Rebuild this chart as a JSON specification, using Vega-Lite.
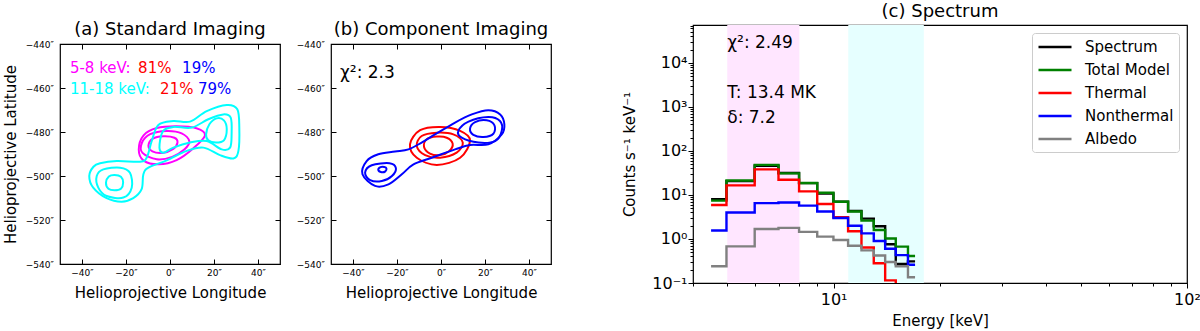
{
  "$schema": "https://vega.github.io/schema/vega-lite/v6.json",
  "background": "white",
  "padding": {"left": 2, "top": 2, "right": 5, "bottom": 0},
  "bounds": "flush",
  "center": true,
  "spacing": 51,
  "config": {
    "font": "DejaVu Sans",
    "view": {"stroke": "black", "strokeWidth": 1.2},
    "axis": {"grid": false, "domain": false, "labelColor": "black", "titleColor": "black", "tickColor": "black", "tickWidth": 1, "titleFontWeight": "normal", "labelFlush": false, "labelOverlap": false},
    "title": {"fontSize": 18, "fontWeight": "normal", "anchor": "middle", "frame": "group", "baseline": "bottom", "color": "black"}
  },
  "resolve": {"scale": {"color": "independent"}},
  "datasets": {
    "contA": [
      {"c":"M3","g":"5-8 keV","i":0,"x":15.9,"y":-481.5},{"c":"M3","g":"5-8 keV","i":1,"x":12,"y":-478.3},{"c":"M3","g":"5-8 keV","i":2,"x":3,"y":-477.4},{"c":"M3","g":"5-8 keV","i":3,"x":-6,"y":-478.2},{"c":"M3","g":"5-8 keV","i":4,"x":-12,"y":-481.5},{"c":"M3","g":"5-8 keV","i":5,"x":-14.2,"y":-488},{"c":"M3","g":"5-8 keV","i":6,"x":-12,"y":-493},{"c":"M3","g":"5-8 keV","i":7,"x":-5,"y":-494.7},{"c":"M3","g":"5-8 keV","i":8,"x":3,"y":-492.8},{"c":"M3","g":"5-8 keV","i":9,"x":10.5,"y":-487.5},
      {"c":"M2","g":"5-8 keV","i":0,"x":8.8,"y":-484.3},{"c":"M2","g":"5-8 keV","i":1,"x":5.3,"y":-480.6},{"c":"M2","g":"5-8 keV","i":2,"x":-1.5,"y":-479.5},{"c":"M2","g":"5-8 keV","i":3,"x":-9,"y":-481},{"c":"M2","g":"5-8 keV","i":4,"x":-12.8,"y":-485},{"c":"M2","g":"5-8 keV","i":5,"x":-12.5,"y":-489.5},{"c":"M2","g":"5-8 keV","i":6,"x":-6,"y":-492.4},{"c":"M2","g":"5-8 keV","i":7,"x":1,"y":-491.3},{"c":"M2","g":"5-8 keV","i":8,"x":6.5,"y":-488},
      {"c":"M1","g":"5-8 keV","i":0,"x":3.4,"y":-484.8},{"c":"M1","g":"5-8 keV","i":1,"x":2,"y":-482.6},{"c":"M1","g":"5-8 keV","i":2,"x":-3,"y":-481.9},{"c":"M1","g":"5-8 keV","i":3,"x":-7.8,"y":-483},{"c":"M1","g":"5-8 keV","i":4,"x":-9.8,"y":-486.2},{"c":"M1","g":"5-8 keV","i":5,"x":-8,"y":-488.8},{"c":"M1","g":"5-8 keV","i":6,"x":-3.5,"y":-489.5},{"c":"M1","g":"5-8 keV","i":7,"x":1.3,"y":-487.8},
      {"c":"C3","g":"11-18 keV","i":0,"x":-31.8,"y":-494.2},{"c":"C3","g":"11-18 keV","i":1,"x":-24.2,"y":-493.2},{"c":"C3","g":"11-18 keV","i":2,"x":-13.6,"y":-493.5},{"c":"C3","g":"11-18 keV","i":3,"x":-10.6,"y":-491.7},{"c":"C3","g":"11-18 keV","i":4,"x":-8.3,"y":-484.1},{"c":"C3","g":"11-18 keV","i":5,"x":-5.3,"y":-476.8},{"c":"C3","g":"11-18 keV","i":6,"x":1.5,"y":-475},{"c":"C3","g":"11-18 keV","i":7,"x":9.1,"y":-475.3},{"c":"C3","g":"11-18 keV","i":8,"x":16.7,"y":-470.5},{"c":"C3","g":"11-18 keV","i":9,"x":25.8,"y":-467.7},{"c":"C3","g":"11-18 keV","i":10,"x":30.6,"y":-469.7},{"c":"C3","g":"11-18 keV","i":11,"x":31.5,"y":-478},{"c":"C3","g":"11-18 keV","i":12,"x":31.1,"y":-488.6},{"c":"C3","g":"11-18 keV","i":13,"x":28.8,"y":-492},{"c":"C3","g":"11-18 keV","i":14,"x":22.7,"y":-490.5},{"c":"C3","g":"11-18 keV","i":15,"x":15.2,"y":-487.1},{"c":"C3","g":"11-18 keV","i":16,"x":7.6,"y":-488.6},{"c":"C3","g":"11-18 keV","i":17,"x":-1.5,"y":-492.9},{"c":"C3","g":"11-18 keV","i":18,"x":-9.8,"y":-496.2},{"c":"C3","g":"11-18 keV","i":19,"x":-12.1,"y":-499.2},{"c":"C3","g":"11-18 keV","i":20,"x":-12.9,"y":-506},{"c":"C3","g":"11-18 keV","i":21,"x":-16.7,"y":-510.1},{"c":"C3","g":"11-18 keV","i":22,"x":-22,"y":-511.7},{"c":"C3","g":"11-18 keV","i":23,"x":-28.8,"y":-510.1},{"c":"C3","g":"11-18 keV","i":24,"x":-34.9,"y":-505.3},{"c":"C3","g":"11-18 keV","i":25,"x":-36.7,"y":-500},{"c":"C3","g":"11-18 keV","i":26,"x":-34.8,"y":-495.8},
      {"c":"C2a","g":"11-18 keV","i":0,"x":-33.3,"y":-500},{"c":"C2a","g":"11-18 keV","i":1,"x":-30.3,"y":-497},{"c":"C2a","g":"11-18 keV","i":2,"x":-22.7,"y":-496.2},{"c":"C2a","g":"11-18 keV","i":3,"x":-18.2,"y":-498.5},{"c":"C2a","g":"11-18 keV","i":4,"x":-17.4,"y":-505.3},{"c":"C2a","g":"11-18 keV","i":5,"x":-21.2,"y":-509.8},{"c":"C2a","g":"11-18 keV","i":6,"x":-28.8,"y":-509.1},{"c":"C2a","g":"11-18 keV","i":7,"x":-32.6,"y":-505.3},
      {"c":"C2b","g":"11-18 keV","i":0,"x":-4.8,"y":-487.1},{"c":"C2b","g":"11-18 keV","i":1,"x":-3.3,"y":-479.8},{"c":"C2b","g":"11-18 keV","i":2,"x":1.5,"y":-477.7},{"c":"C2b","g":"11-18 keV","i":3,"x":9.9,"y":-478},{"c":"C2b","g":"11-18 keV","i":4,"x":17.4,"y":-474.2},{"c":"C2b","g":"11-18 keV","i":5,"x":24.2,"y":-472},{"c":"C2b","g":"11-18 keV","i":6,"x":27.6,"y":-473.5},{"c":"C2b","g":"11-18 keV","i":7,"x":28,"y":-481},{"c":"C2b","g":"11-18 keV","i":8,"x":27.3,"y":-487.1},{"c":"C2b","g":"11-18 keV","i":9,"x":23.5,"y":-487.9},{"c":"C2b","g":"11-18 keV","i":10,"x":16.7,"y":-484.1},{"c":"C2b","g":"11-18 keV","i":11,"x":9.1,"y":-484.8},{"c":"C2b","g":"11-18 keV","i":12,"x":1.5,"y":-487.1},{"c":"C2b","g":"11-18 keV","i":13,"x":-3,"y":-489.4},
      {"c":"C1a","g":"11-18 keV","i":0,"x":-29.1,"y":-503},{"c":"C1a","g":"11-18 keV","i":1,"x":-27.8,"y":-500.2},{"c":"C1a","g":"11-18 keV","i":2,"x":-25.2,"y":-499.5},{"c":"C1a","g":"11-18 keV","i":3,"x":-22.3,"y":-500.3},{"c":"C1a","g":"11-18 keV","i":4,"x":-21.3,"y":-503},{"c":"C1a","g":"11-18 keV","i":5,"x":-22.3,"y":-505.8},{"c":"C1a","g":"11-18 keV","i":6,"x":-25.2,"y":-506.5},{"c":"C1a","g":"11-18 keV","i":7,"x":-28,"y":-505.8},
      {"c":"C1b","g":"11-18 keV","i":0,"x":16.4,"y":-481.1},{"c":"C1b","g":"11-18 keV","i":1,"x":17.9,"y":-476.5},{"c":"C1b","g":"11-18 keV","i":2,"x":21.2,"y":-473.8},{"c":"C1b","g":"11-18 keV","i":3,"x":24.5,"y":-474.7},{"c":"C1b","g":"11-18 keV","i":4,"x":25.8,"y":-478.8},{"c":"C1b","g":"11-18 keV","i":5,"x":24.5,"y":-483.8},{"c":"C1b","g":"11-18 keV","i":6,"x":20.9,"y":-484.8},{"c":"C1b","g":"11-18 keV","i":7,"x":17.4,"y":-483.8}
    ],
    "textA": [
      {"t":"5-8 keV:","g":"5-8 keV","x":-45.5,"y":-451},
      {"t":"81%","g":"th","x":-14.5,"y":-451},
      {"t":"19%","g":"nt","x":5.5,"y":-451},
      {"t":"11-18 keV:","g":"11-18 keV","x":-45.5,"y":-460.5},
      {"t":"21%","g":"th","x":-4.5,"y":-460.5},
      {"t":"79%","g":"nt","x":12.7,"y":-460.5}
    ],
    "contB": [
      {"c":"R3","g":"Thermal","i":0,"x":13.2,"y":-483.8},{"c":"R3","g":"Thermal","i":1,"x":8.7,"y":-479.5},{"c":"R3","g":"Thermal","i":2,"x":-0.4,"y":-477.7},{"c":"R3","g":"Thermal","i":3,"x":-9.5,"y":-479.2},{"c":"R3","g":"Thermal","i":4,"x":-14.1,"y":-485.6},{"c":"R3","g":"Thermal","i":5,"x":-11,"y":-491.7},{"c":"R3","g":"Thermal","i":6,"x":-1.9,"y":-495},{"c":"R3","g":"Thermal","i":7,"x":8.7,"y":-491.7},
      {"c":"R2","g":"Thermal","i":0,"x":9.9,"y":-484.8},{"c":"R2","g":"Thermal","i":1,"x":5.6,"y":-481.1},{"c":"R2","g":"Thermal","i":2,"x":-1.9,"y":-480.3},{"c":"R2","g":"Thermal","i":3,"x":-8.8,"y":-481.8},{"c":"R2","g":"Thermal","i":4,"x":-11,"y":-486.4},{"c":"R2","g":"Thermal","i":5,"x":-7.2,"y":-490.5},{"c":"R2","g":"Thermal","i":6,"x":-0.4,"y":-491.7},{"c":"R2","g":"Thermal","i":7,"x":7.1,"y":-489.4},
      {"c":"R1","g":"Thermal","i":0,"x":5.3,"y":-485.3},{"c":"R1","g":"Thermal","i":1,"x":2.6,"y":-482.6},{"c":"R1","g":"Thermal","i":2,"x":-1.9,"y":-482.1},{"c":"R1","g":"Thermal","i":3,"x":-6.5,"y":-483.3},{"c":"R1","g":"Thermal","i":4,"x":-7.7,"y":-486.8},{"c":"R1","g":"Thermal","i":5,"x":-5,"y":-489.8},{"c":"R1","g":"Thermal","i":6,"x":-0.4,"y":-490.5},{"c":"R1","g":"Thermal","i":7,"x":3.8,"y":-488.6},
      {"c":"B3","g":"Nonthermal","i":0,"x":-35.7,"y":-499.2},{"c":"B3","g":"Nonthermal","i":1,"x":-30,"y":-504.5},{"c":"B3","g":"Nonthermal","i":2,"x":-23.9,"y":-503.8},{"c":"B3","g":"Nonthermal","i":3,"x":-17.8,"y":-499.2},{"c":"B3","g":"Nonthermal","i":4,"x":-12.5,"y":-494.7},{"c":"B3","g":"Nonthermal","i":5,"x":-4.2,"y":-491.7},{"c":"B3","g":"Nonthermal","i":6,"x":6.4,"y":-487.9},{"c":"B3","g":"Nonthermal","i":7,"x":13.2,"y":-485.9},{"c":"B3","g":"Nonthermal","i":8,"x":21.5,"y":-485.6},{"c":"B3","g":"Nonthermal","i":9,"x":27.6,"y":-481.1},{"c":"B3","g":"Nonthermal","i":10,"x":28.8,"y":-476.5},{"c":"B3","g":"Nonthermal","i":11,"x":26.9,"y":-472},{"c":"B3","g":"Nonthermal","i":12,"x":21.5,"y":-470.1},{"c":"B3","g":"Nonthermal","i":13,"x":14,"y":-472},{"c":"B3","g":"Nonthermal","i":14,"x":6.4,"y":-475.7},{"c":"B3","g":"Nonthermal","i":15,"x":-2.7,"y":-481.1},{"c":"B3","g":"Nonthermal","i":16,"x":-8.8,"y":-484.8},{"c":"B3","g":"Nonthermal","i":17,"x":-14.8,"y":-487.9},{"c":"B3","g":"Nonthermal","i":18,"x":-20.9,"y":-488.9},{"c":"B3","g":"Nonthermal","i":19,"x":-28.5,"y":-490.1},{"c":"B3","g":"Nonthermal","i":20,"x":-33.8,"y":-493.2},
      {"c":"B2a","g":"Nonthermal","i":0,"x":-34.5,"y":-498.5},{"c":"B2a","g":"Nonthermal","i":1,"x":-31.5,"y":-495.1},{"c":"B2a","g":"Nonthermal","i":2,"x":-23.4,"y":-494.2},{"c":"B2a","g":"Nonthermal","i":3,"x":-20.5,"y":-496.4},{"c":"B2a","g":"Nonthermal","i":4,"x":-22.3,"y":-500},{"c":"B2a","g":"Nonthermal","i":5,"x":-26.9,"y":-502.3},{"c":"B2a","g":"Nonthermal","i":6,"x":-32.2,"y":-501.9},
      {"c":"B2b","g":"Nonthermal","i":0,"x":7.9,"y":-479.5},{"c":"B2b","g":"Nonthermal","i":1,"x":12.5,"y":-475.3},{"c":"B2b","g":"Nonthermal","i":2,"x":21.5,"y":-473.2},{"c":"B2b","g":"Nonthermal","i":3,"x":26.8,"y":-475},{"c":"B2b","g":"Nonthermal","i":4,"x":27.6,"y":-479.5},{"c":"B2b","g":"Nonthermal","i":5,"x":24.6,"y":-484.1},{"c":"B2b","g":"Nonthermal","i":6,"x":17,"y":-484.8},{"c":"B2b","g":"Nonthermal","i":7,"x":9.4,"y":-482.6},
      {"c":"B1a","g":"Nonthermal","i":0,"x":-28.5,"y":-497.3},{"c":"B1a","g":"Nonthermal","i":1,"x":-27.5,"y":-496},{"c":"B1a","g":"Nonthermal","i":2,"x":-25.8,"y":-495.9},{"c":"B1a","g":"Nonthermal","i":3,"x":-24.8,"y":-496.6},{"c":"B1a","g":"Nonthermal","i":4,"x":-25.3,"y":-497.9},{"c":"B1a","g":"Nonthermal","i":5,"x":-27,"y":-498.3},
      {"c":"B1b","g":"Nonthermal","i":0,"x":13.2,"y":-478.5},{"c":"B1b","g":"Nonthermal","i":1,"x":15.5,"y":-475.5},{"c":"B1b","g":"Nonthermal","i":2,"x":20.8,"y":-474.7},{"c":"B1b","g":"Nonthermal","i":3,"x":24.3,"y":-477},{"c":"B1b","g":"Nonthermal","i":4,"x":23.8,"y":-480.8},{"c":"B1b","g":"Nonthermal","i":5,"x":19.3,"y":-482.3},{"c":"B1b","g":"Nonthermal","i":6,"x":14.7,"y":-481.3}
    ],
    "textB": [{"t":"χ²: 2.3","x":-45.9,"y":-453}],
    "spec": [
      {"E":4.5,"s":"Spectrum","v":8.0},{"E":5.5,"s":"Spectrum","v":20.5},{"E":6.5,"s":"Spectrum","v":46},{"E":7.5,"s":"Spectrum","v":31.5},{"E":8.5,"s":"Spectrum","v":18.5},{"E":9.5,"s":"Spectrum","v":10.8},{"E":10.5,"s":"Spectrum","v":7.0},{"E":11.5,"s":"Spectrum","v":4.3},{"E":12.5,"s":"Spectrum","v":2.9},{"E":13.5,"s":"Spectrum","v":1.95},{"E":14.5,"s":"Spectrum","v":0.76},{"E":15.5,"s":"Spectrum","v":0.27},{"E":17,"s":"Spectrum","v":0.31},
      {"E":4.5,"s":"Total Model","v":7.4},{"E":5.5,"s":"Total Model","v":21.3},{"E":6.5,"s":"Total Model","v":48},{"E":7.5,"s":"Total Model","v":30.8},{"E":8.5,"s":"Total Model","v":18.6},{"E":9.5,"s":"Total Model","v":11.2},{"E":10.5,"s":"Total Model","v":7.0},{"E":11.5,"s":"Total Model","v":4.2},{"E":12.5,"s":"Total Model","v":2.6},{"E":13.5,"s":"Total Model","v":1.6},{"E":14.5,"s":"Total Model","v":1.02},{"E":15.5,"s":"Total Model","v":0.67},{"E":17,"s":"Total Model","v":0.41},
      {"E":4.5,"s":"Thermal","v":5.9},{"E":5.5,"s":"Thermal","v":16.5},{"E":6.5,"s":"Thermal","v":38},{"E":7.5,"s":"Thermal","v":22},{"E":8.5,"s":"Thermal","v":12},{"E":9.5,"s":"Thermal","v":6.2},{"E":10.5,"s":"Thermal","v":3.1},{"E":11.5,"s":"Thermal","v":1.5},{"E":12.5,"s":"Thermal","v":0.64},{"E":13.5,"s":"Thermal","v":0.28},{"E":14.5,"s":"Thermal","v":0.115},{"E":15.5,"s":"Thermal","v":0.05},{"E":17,"s":"Thermal","v":0.02},
      {"E":4.5,"s":"Nonthermal","v":1.55},{"E":5.5,"s":"Nonthermal","v":4.0},{"E":6.5,"s":"Nonthermal","v":6.5},{"E":7.5,"s":"Nonthermal","v":6.7},{"E":8.5,"s":"Nonthermal","v":5.7},{"E":9.5,"s":"Nonthermal","v":4.2},{"E":10.5,"s":"Nonthermal","v":3.0},{"E":11.5,"s":"Nonthermal","v":2.0},{"E":12.5,"s":"Nonthermal","v":1.34},{"E":13.5,"s":"Nonthermal","v":0.9},{"E":14.5,"s":"Nonthermal","v":0.6},{"E":15.5,"s":"Nonthermal","v":0.43},{"E":17,"s":"Nonthermal","v":0.26},
      {"E":4.5,"s":"Albedo","v":0.24},{"E":5.5,"s":"Albedo","v":0.68},{"E":6.5,"s":"Albedo","v":1.68},{"E":7.5,"s":"Albedo","v":1.78},{"E":8.5,"s":"Albedo","v":1.45},{"E":9.5,"s":"Albedo","v":1.13},{"E":10.5,"s":"Albedo","v":0.95},{"E":11.5,"s":"Albedo","v":0.7},{"E":12.5,"s":"Albedo","v":0.55},{"E":13.5,"s":"Albedo","v":0.42},{"E":14.5,"s":"Albedo","v":0.3},{"E":15.5,"s":"Albedo","v":0.24},{"E":17,"s":"Albedo","v":0.135}
    ],
    "bands": [{"b":"5-8 keV","lo":5,"hi":8},{"b":"11-18 keV","lo":11,"hi":18}],
    "textC": [
      {"t":"χ²: 2.49","E":5,"v":28600},
      {"t":"T: 13.4 MK","E":5,"v":2100},
      {"t":"δ: 7.2","E":5,"v":569}
    ]
  },
  "hconcat": [
    {
      "width": 220, "height": 220,
      "title": {"text": "(a) Standard Imaging", "offset": 1},
      "layer": [
        {
          "data": {"name": "contA"},
          "mark": {"type": "line", "interpolate": "cardinal-closed", "strokeWidth": 2, "clip": true},
          "encoding": {
            "x": {"field": "x", "type": "quantitative", "scale": {"domain": [-50, 50], "nice": false, "zero": false},
                  "axis": {"orient": "bottom", "title": "Helioprojective Longitude", "values": [-40, -20, 0, 20, 40], "labelExpr": "(datum.value < 0 ? '−' + abs(datum.value) : '' + datum.value) + '″'", "tickSize": -5, "labelPadding": 9, "labelFontSize": 9, "titleFontSize": 15, "titlePadding": 8}},
            "y": {"field": "y", "type": "quantitative", "scale": {"domain": [-540, -440], "nice": false, "zero": false},
                  "axis": {"orient": "left", "title": "Helioprojective Latitude", "values": [-540, -520, -500, -480, -460, -440], "labelExpr": "(datum.value < 0 ? '−' + abs(datum.value) : '' + datum.value) + '″'", "tickSize": -5, "labelPadding": 11.7, "labelFontSize": 9, "titleFontSize": 15, "titlePadding": 7}},
            "color": {"field": "g", "type": "nominal", "scale": {"domain": ["5-8 keV", "11-18 keV", "th", "nt"], "range": ["#ff00ff", "#00ffff", "#ff0000", "#0000ff"]}, "legend": null},
            "detail": {"field": "c"},
            "order": {"field": "i", "type": "quantitative"}
          }
        },
        {
          "data": {"name": "textA"},
          "mark": {"type": "text", "align": "left", "baseline": "middle", "fontSize": 15},
          "encoding": {
            "x": {"field": "x", "type": "quantitative", "scale": {"domain": [-50, 50], "nice": false, "zero": false},
                  "axis": {"orient": "top", "title": null, "labels": false, "values": [-40, -20, 0, 20, 40], "tickSize": -5}},
            "y": {"field": "y", "type": "quantitative", "scale": {"domain": [-540, -440], "nice": false, "zero": false},
                  "axis": {"orient": "right", "title": null, "labels": false, "values": [-540, -520, -500, -480, -460, -440], "tickSize": -5}},
            "text": {"field": "t"},
            "color": {"field": "g", "type": "nominal", "scale": {"domain": ["5-8 keV", "11-18 keV", "th", "nt"], "range": ["#ff00ff", "#00ffff", "#ff0000", "#0000ff"]}, "legend": null}
          }
        }
      ],
      "resolve": {"axis": {"x": "independent", "y": "independent"}}
    },
    {
      "width": 220, "height": 220,
      "title": {"text": "(b) Component Imaging", "offset": 1},
      "layer": [
        {
          "data": {"name": "contB"},
          "mark": {"type": "line", "interpolate": "cardinal-closed", "strokeWidth": 2, "clip": true},
          "encoding": {
            "x": {"field": "x", "type": "quantitative", "scale": {"domain": [-50, 50], "nice": false, "zero": false},
                  "axis": {"orient": "bottom", "title": "Helioprojective Longitude", "values": [-40, -20, 0, 20, 40], "labelExpr": "(datum.value < 0 ? '−' + abs(datum.value) : '' + datum.value) + '″'", "tickSize": -5, "labelPadding": 9, "labelFontSize": 9, "titleFontSize": 15, "titlePadding": 8}},
            "y": {"field": "y", "type": "quantitative", "scale": {"domain": [-540, -440], "nice": false, "zero": false},
                  "axis": {"orient": "left", "title": null, "values": [-540, -520, -500, -480, -460, -440], "labelExpr": "(datum.value < 0 ? '−' + abs(datum.value) : '' + datum.value) + '″'", "tickSize": -5, "labelPadding": 11.7, "labelFontSize": 9}},
            "color": {"field": "g", "type": "nominal", "scale": {"domain": ["Thermal", "Nonthermal"], "range": ["#ff0000", "#0000ff"]}, "legend": null},
            "detail": {"field": "c"},
            "order": {"field": "i", "type": "quantitative"}
          }
        },
        {
          "data": {"name": "textB"},
          "mark": {"type": "text", "align": "left", "baseline": "middle", "fontSize": 17, "color": "black"},
          "encoding": {
            "x": {"field": "x", "type": "quantitative", "scale": {"domain": [-50, 50], "nice": false, "zero": false},
                  "axis": {"orient": "top", "title": null, "labels": false, "values": [-40, -20, 0, 20, 40], "tickSize": -5}},
            "y": {"field": "y", "type": "quantitative", "scale": {"domain": [-540, -440], "nice": false, "zero": false},
                  "axis": {"orient": "right", "title": null, "labels": false, "values": [-540, -520, -500, -480, -460, -440], "tickSize": -5}},
            "text": {"field": "t"}
          }
        }
      ],
      "resolve": {"axis": {"x": "independent", "y": "independent"}}
    },
    {
      "width": 40, "height": 10,
      "view": {"stroke": null},
      "data": {"values": [{"a": 1}]},
      "mark": {"type": "text"},
      "encoding": {"text": {"value": ""}}
    },
    {
      "width": 494, "height": 258,
      "title": {"text": "(c) Spectrum", "offset": 3.7},
      "layer": [
        {
          "data": {"name": "bands"},
          "mark": {"type": "rect"},
          "encoding": {
            "x": {"field": "lo", "type": "quantitative", "scale": {"type": "log", "domain": [4, 100], "nice": false},
                  "axis": {"orient": "bottom", "title": "Energy [keV]", "values": [10, 100], "labelExpr": "datum.value == 10 ? '10¹' : '10²'", "tickSize": 5, "labelPadding": 3, "labelFontSize": 16, "titleFontSize": 15, "titlePadding": 6}},
            "x2": {"field": "hi"},
            "fill": {"field": "b", "type": "nominal", "scale": {"domain": ["5-8 keV", "11-18 keV"], "range": ["#ffe6ff", "#e6ffff"]}, "legend": null}
          }
        },
        {
          "data": {"name": "spec"},
          "mark": {"type": "line", "interpolate": "step", "strokeWidth": 2.4, "clip": true},
          "encoding": {
            "x": {"field": "E", "type": "quantitative", "scale": {"type": "log", "domain": [4, 100], "nice": false}, "axis": null},
            "y": {"field": "v", "type": "quantitative", "scale": {"type": "log", "domain": [0.1, 72000], "nice": false},
                  "axis": {"orient": "left", "title": "Counts s⁻¹ keV⁻¹", "values": [0.1, 1, 10, 100, 1000, 10000], "labelExpr": "datum.value == 0.1 ? '10⁻¹' : datum.value == 1 ? '10⁰' : datum.value == 10 ? '10¹' : datum.value == 100 ? '10²' : datum.value == 1000 ? '10³' : '10⁴'", "tickSize": 5, "labelPadding": 1, "labelFontSize": 16, "titleFontSize": 15, "titlePadding": 14}},
            "color": {"field": "s", "type": "nominal", "scale": {"domain": ["Spectrum", "Total Model", "Thermal", "Nonthermal", "Albedo"], "range": ["#000000", "#008000", "#ff0000", "#0000ff", "#808080"]},
                      "legend": {"orient": "top-right", "offset": 8, "title": null, "symbolType": "M-1,0L3.4,0", "symbolSize": 225, "symbolStrokeWidth": 2.5, "labelFontSize": 15, "labelOffset": 30, "padding": 5, "rowPadding": 6, "fillColor": "white", "strokeColor": "#cccccc", "cornerRadius": 3, "labelColor": "black"}}
          }
        },
        {
          "data": {"name": "textC"},
          "mark": {"type": "text", "align": "left", "baseline": "middle", "fontSize": 17, "color": "black"},
          "encoding": {
            "x": {"field": "E", "type": "quantitative", "scale": {"type": "log", "domain": [4, 100], "nice": false},
                  "axis": {"orient": "bottom", "title": null, "labels": false, "tickSize": 3, "values": [4, 5, 6, 7, 8, 9, 20, 30, 40, 50, 60, 70, 80, 90]}},
            "y": {"field": "v", "type": "quantitative", "scale": {"type": "log", "domain": [0.1, 72000], "nice": false},
                  "axis": {"orient": "left", "title": null, "labels": false, "tickSize": 3, "values": [0.2, 0.3, 0.4, 0.5, 0.6, 0.7, 0.8, 0.9, 2, 3, 4, 5, 6, 7, 8, 9, 20, 30, 40, 50, 60, 70, 80, 90, 200, 300, 400, 500, 600, 700, 800, 900, 2000, 3000, 4000, 5000, 6000, 7000, 8000, 9000, 20000, 30000, 40000, 50000, 60000, 70000]}},
            "text": {"field": "t"}
          }
        }
      ],
      "resolve": {"axis": {"x": "independent", "y": "independent"}}
    }
  ]
}
